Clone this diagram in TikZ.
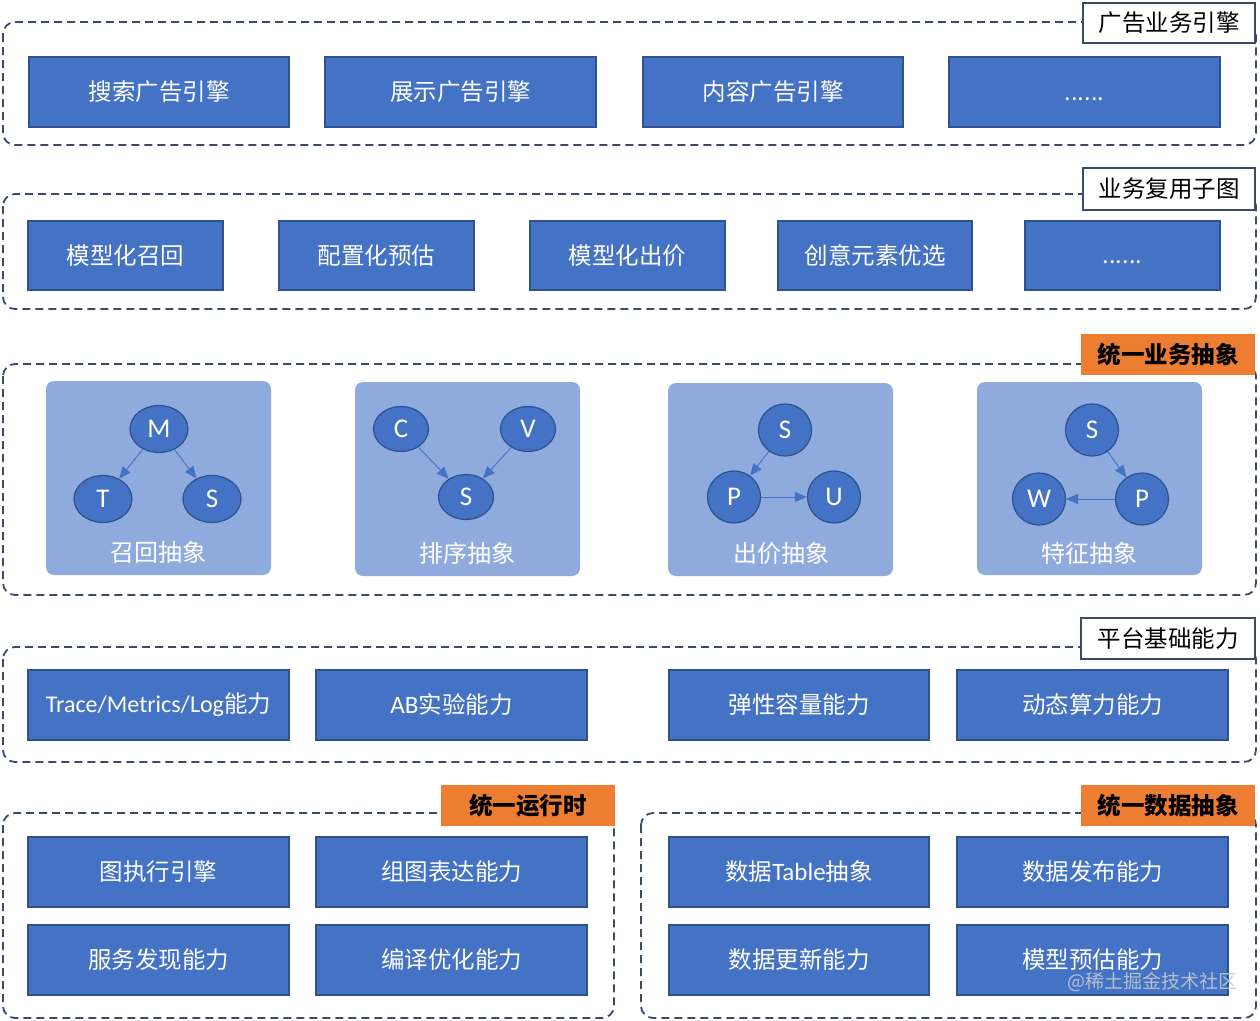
\documentclass[tikz,border=0pt]{standalone}
\usepackage{fontspec}
\setmainfont{Noto Sans CJK SC}
\newfontfamily\latf{Carlito}
\usetikzlibrary{arrows.meta,shapes.geometric}
\definecolor{boxblue}{HTML}{4472C4}
\definecolor{boxedge}{HTML}{2F528F}
\definecolor{panelc}{HTML}{8FAADC}
\definecolor{framec}{HTML}{3B4A68}
\definecolor{orng}{HTML}{ED7D31}
\definecolor{wmark}{HTML}{C4C8D0}
\newcommand\bx[7][blk]{\node[#1, minimum width={#5-#3}, minimum height={#6-#4}] (#2) at ({(#3+#5)/2},{(#4+#6)/2}) {#7};}
\newcommand\frm[4]{\draw[frm] (#1,#2) rectangle (#3,#4);}
\newcommand\lowdots{\raisebox{-8pt}[0pt][0pt]{......}}
\begin{document}
\begin{tikzpicture}[x=1pt,y=-1pt,
  blk/.style={draw=boxedge, line width=1.5pt, fill=boxblue, text=white, inner sep=0pt, font=\fontsize{23.5}{28}\selectfont},
  frm/.style={draw=framec, line width=1.8pt, dash pattern=on 8pt off 5pt, rounded corners=12pt},
  tagw/.style={draw=framec, line width=1.8pt, fill=white, text=black, inner sep=0pt, font=\fontsize{23.5}{28}\selectfont},
  tago/.style={fill=orng, text=black, inner sep=0pt, font=\bfseries\fontsize{23.5}{28}\selectfont},
  pnl/.style={fill=panelc, rounded corners=8pt, inner sep=0pt},
  plab/.style={text=white, font=\fontsize{24}{28}\selectfont, inner sep=0pt},
  gn/.style={ellipse, draw=boxedge, line width=1.2pt, fill=boxblue, text=white, inner sep=0pt, font=\latf\fontsize{27}{30}\selectfont},
  gc/.style={gn, minimum width=53pt, minimum height=52pt},
  arr/.style={draw=boxblue, line width=0.9pt, -{Triangle[length=12pt,width=10pt]}}
]
\useasboundingbox (0,0) rectangle (1260,1020);

% ---------- frames ----------
\frm{3}{22}{1256}{145}
\frm{3}{194}{1256}{309}
\frm{3}{364}{1256}{595}
\frm{3}{647}{1256}{762}
\frm{3}{813}{614}{1018}
\frm{641}{813}{1256}{1018}

% ---------- section labels ----------
\bx[tagw]{t1}{1083}{3}{1255}{43}{广告业务引擎}
\bx[tagw]{t2}{1083}{168}{1255}{210}{业务复用子图}
\bx[tago]{t3}{1081}{334}{1255}{375}{统一业务抽象}
\bx[tagw]{t4}{1081}{618}{1255}{659}{平台基础能力}
\bx[tago]{t5}{441}{785}{615}{826}{统一运行时}
\bx[tago]{t6}{1081}{785}{1255}{826}{统一数据抽象}

% ---------- row 1 ----------
\bx{a1}{29}{57}{289}{127}{搜索广告引擎}
\bx{a2}{325}{57}{596}{127}{展示广告引擎}
\bx{a3}{643}{57}{903}{127}{内容广告引擎}
\bx{a4}{949}{57}{1220}{127}{\lowdots}

% ---------- row 2 ----------
\bx{b1}{28}{221}{223}{290}{模型化召回}
\bx{b2}{279}{221}{474}{290}{配置化预估}
\bx{b3}{530}{221}{725}{290}{模型化出价}
\bx{b4}{778}{221}{972}{290}{创意元素优选}
\bx{b5}{1025}{221}{1220}{290}{\lowdots}

% ---------- row 3: panels ----------
\bx[pnl]{p1}{46}{381}{271}{575}{}
\bx[pnl]{p2}{355}{382}{580}{576}{}
\bx[pnl]{p3}{668}{383}{893}{576}{}
\bx[pnl]{p4}{977}{382}{1202}{575}{}

\node[plab] (l1) at (158,552) {召回抽象};
\node[plab] (l2) at (467,553) {排序抽象};
\node[plab] (l3) at (781,553) {出价抽象};
\node[plab] (l4) at (1089,553) {特征抽象};

\node[gn, minimum width=58pt, minimum height=47pt] (m1) at (159,429) {M};
\node[gn, minimum width=58pt, minimum height=47pt] (t1n) at (103,499) {T};
\node[gn, minimum width=58pt, minimum height=47pt] (s1) at (212,499) {S};
\draw[arr] (m1) -- (t1n);
\draw[arr] (m1) -- (s1);

\node[gn, minimum width=55pt, minimum height=45pt] (c2) at (401,429) {C};
\node[gn, minimum width=55pt, minimum height=45pt] (v2) at (528,429) {V};
\node[gn, minimum width=55pt, minimum height=45pt] (s2) at (466,497) {S};
\draw[arr] (c2) -- (s2);
\draw[arr] (v2) -- (s2);

\node[gc] (s3) at (785,430) {S};
\node[gc] (p3n) at (734,497) {P};
\node[gc] (u3) at (834,497) {U};
\draw[arr] (s3) -- (p3n);
\draw[arr] (p3n) -- (u3);

\node[gc] (s4) at (1092,430) {S};
\node[gc] (w4) at (1039,499) {W};
\node[gc] (p4n) at (1142,499) {P};
\draw[arr] (s4) -- (p4n);
\draw[arr] (p4n) -- (w4);

% ---------- row 4 ----------
\bx{c1}{28}{670}{289}{740}{{\latf\fontsize{24}{28}\selectfont Trace/Metrics/Log}能力}
\bx{c2b}{316}{670}{587}{740}{{\latf\fontsize{25}{28}\selectfont AB}实验能力}
\bx{c3}{669}{670}{929}{740}{弹性容量能力}
\bx{c4}{957}{670}{1228}{740}{动态算力能力}

% ---------- row 5 ----------
\bx{d1}{28}{837}{289}{907}{图执行引擎}
\bx{d2}{316}{837}{587}{907}{组图表达能力}
\bx{d3}{28}{925}{289}{995}{服务发现能力}
\bx{d4}{316}{925}{587}{995}{编译优化能力}
\bx{e1}{669}{837}{929}{907}{数据{\latf\fontsize{25}{28}\selectfont Table}抽象}
\bx{e2}{957}{837}{1228}{907}{数据发布能力}
\bx{e3}{669}{925}{929}{995}{数据更新能力}
\bx{e4}{957}{925}{1228}{995}{模型预估能力}

% ---------- watermark ----------
\node[text=wmark, opacity=0.9, font=\fontsize{19}{20}\selectfont, inner sep=0pt] (wm) at (1152,982) {@稀土掘金技术社区};
\end{tikzpicture}
\end{document}
